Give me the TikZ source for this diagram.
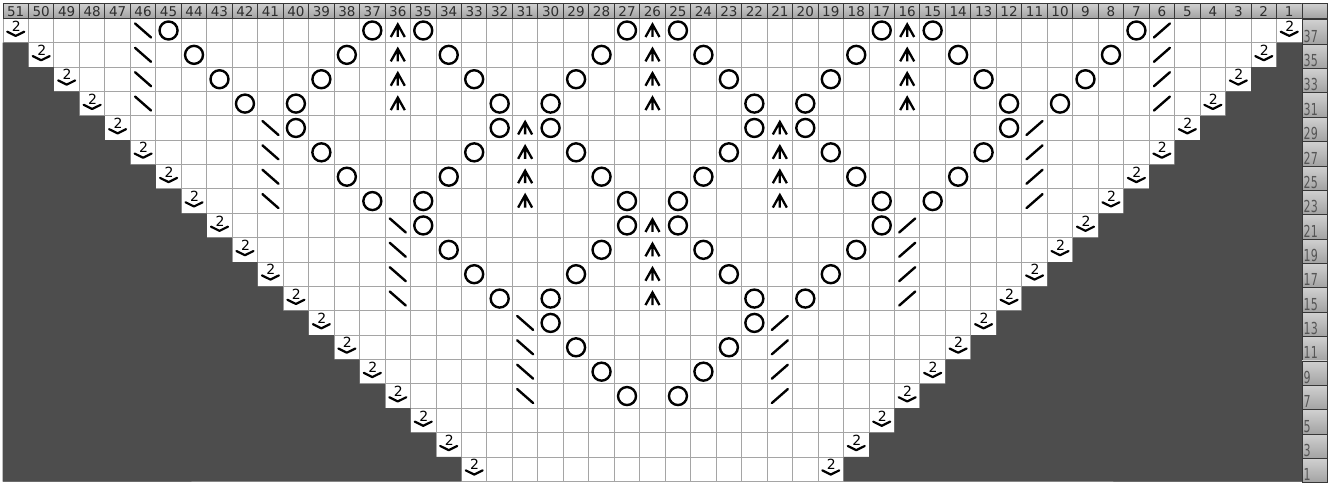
\documentclass[tikz,border=0pt]{standalone}
\usepackage{graphicx}
\usepackage{fontspec}
\setmainfont{DejaVu Sans}
\definecolor{darkfill}{RGB}{77,77,77}
\definecolor{gridgray}{RGB}{165,165,165}
\definecolor{hdrtop}{RGB}{208,208,208}
\definecolor{hdrbot}{RGB}{162,162,162}
\definecolor{hdrline}{RGB}{55,55,55}
\definecolor{hdrtext}{RGB}{45,45,45}
\definecolor{lbltext}{RGB}{85,85,85}
\begin{document}
\begin{tikzpicture}[x=1pt,y=-1pt,
  declare function={cx(\c)=3+(51.5-\c)*25.47; cy(\r)=18.3+((37-\r)/2+0.5)*24.37;},
  gridline/.style={draw=gridgray,line width=0.9pt},
  hdrcell/.style={top color=hdrtop,bottom color=hdrbot,draw=hdrline,line width=0.9pt},
  hdrnum/.style={font=\fontsize{13.5}{13.5}\selectfont,text=hdrtext,inner sep=0pt,anchor=base},
  lblnum/.style={font=\fontsize{16.5}{16.5}\selectfont,text=lbltext,inner sep=0pt,anchor=base west},
  yo/.style={draw=black,line width=2.4pt},
  dec/.style={draw=black,line width=2.4pt,line cap=round},
  cdd/.style={draw=black,line width=2.3pt,line join=miter},
  twonum/.style={font=\fontsize{14}{14}\selectfont,inner sep=0pt},
  chev/.style={draw=black,line width=2.2pt,line cap=round,line join=round},
]
\fill[white] (0,0) rectangle (1335,483);
\useasboundingbox (0,0) rectangle (1335,483);
% chart area
\fill[white] (3,18.3) rectangle (1302,481.3);
\foreach \j in {0,...,51} \draw[gridline] ({3+\j*25.47},18.3) -- ({3+\j*25.47},481.3);
\foreach \i in {0,...,19} \draw[gridline] (3,{18.3+\i*24.37}) -- (1302,{18.3+\i*24.37});
% dark staircase regions
\fill[darkfill] (2.5,{18.3+24.37}) \foreach \i in {1,...,18}{ -- ({3+\i*25.47},{18.3+\i*24.37}) -- ({3+\i*25.47},{18.3+(\i+1)*24.37}) } -- (2.5,481.6) -- cycle;
\fill[darkfill] (1302,{18.3+24.37}) \foreach \i in {1,...,18}{ -- ({1302-\i*25.47},{18.3+\i*24.37}) -- ({1302-\i*25.47},{18.3+(\i+1)*24.37}) } -- (1302,481.6) -- cycle;
% header row
\foreach \j in {0,...,51} \draw[hdrcell] ({3+\j*25.47},3.3) rectangle ({3+(\j+1)*25.47},18.3);
\foreach \c in {1,...,51} \node[hdrnum] (h\c) at ({cx(\c)},16.6) {\c};
% row label column
\foreach \i in {0,...,18} {
  \pgfmathtruncatemacro\r{37-2*\i}
  \draw[hdrcell] (1302,{19.8+\i*24.37}) rectangle (1327,{19.8+(\i+1)*24.37});
  \node[lblnum] (r\r) at (1303.5,{19.8+(\i+1)*24.37-2}) {\scalebox{0.67}[1]{\r}};
}
% yarn overs
\foreach \r/\cs in {37/{45,37,35,27,25,17,15,7},35/{44,38,34,28,24,18,14,8},33/{43,39,33,29,23,19,13,9},31/{42,40,32,30,22,20,12,10},
  29/{40,32,30,22,20,12},27/{39,33,29,23,19,13},25/{38,34,28,24,18,14},23/{37,35,27,25,17,15},
  21/{35,27,25,17},19/{34,28,24,18},17/{33,29,23,19},15/{32,30,22,20},
  13/{30,22},11/{29,23},9/{28,24},7/{27,25}}
  \foreach \c in \cs \draw[yo] ({cx(\c)},{cy(\r)}) circle[radius=9];
% central double decreases
\foreach \r/\cs in {37/{36,26,16},35/{36,26,16},33/{36,26,16},31/{36,26,16},29/{31,21},27/{31,21},25/{31,21},23/{31,21},21/{26},19/{26},17/{26},15/{26}}
  \foreach \c in \cs \draw[cdd,shift={({cx(\c)},{cy(\r)})}] (-7,6.5) -- (0,-6) -- (7,6.5) (0,-6) -- (0,6.5);
% ssk and k2tog
\foreach \r/\c in {37/46,35/46,33/46,31/46,29/41,27/41,25/41,23/41,21/36,19/36,17/36,15/36,13/31,11/31,9/31,7/31} {
  \draw[dec,shift={({cx(\c)},{cy(\r)})}] (-8,-7) -- (8,7);
  \draw[dec,shift={({cx(52-\c)},{cy(\r)})}] (-8,7) -- (8,-7);
}
% edge symbols
\foreach \i in {0,...,18} {
  \pgfmathtruncatemacro\r{37-2*\i}
  \pgfmathtruncatemacro\cl{51-\i}
  \pgfmathtruncatemacro\cr{1+\i}
  \foreach \c in {\cl,\cr} {
    \node[twonum] (t\r-\c) at ({cx(\c)+0.5},{cy(\r)-4.6}) {2};
    \draw[chev,shift={({cx(\c)},{cy(\r)})}] (-8.5,1.2) -- (0,5.4) -- (8.5,1.2);
  }
}
\end{tikzpicture}
\end{document}
